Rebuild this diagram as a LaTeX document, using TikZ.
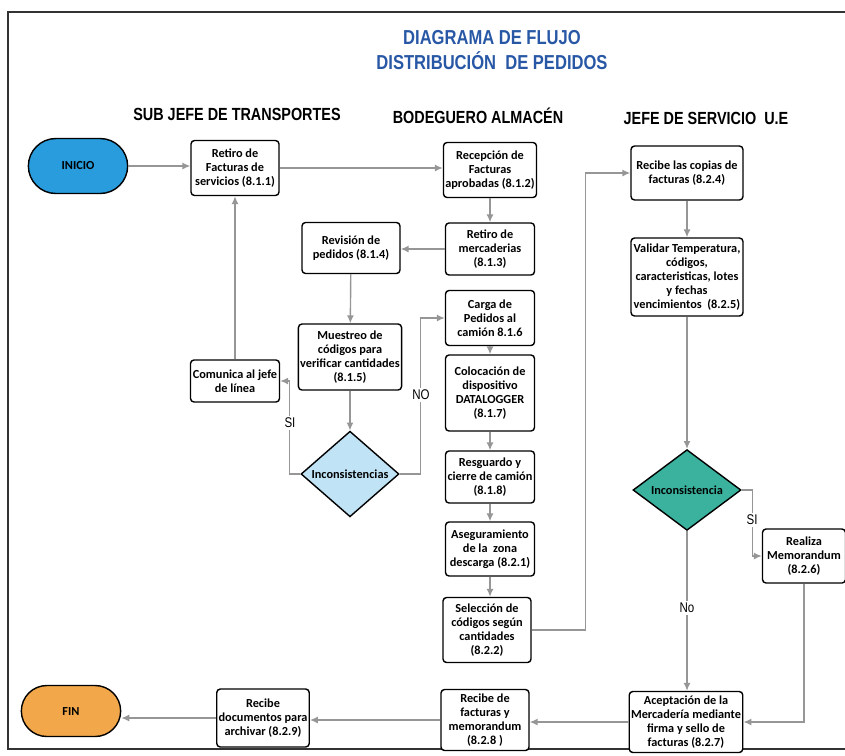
\documentclass[tikz,border=0pt]{standalone}
\usepackage{fontspec}
\setmainfont{Carlito}
\newfontfamily\narrowfont{Liberation Sans}[FakeStretch=0.82]
\usepackage{tikz}
\usetikzlibrary{positioning, arrows.meta, shapes.geometric, shapes.misc}

\definecolor{titleblue}{RGB}{40,88,165}
\definecolor{startblue}{RGB}{40,156,220}
\definecolor{endorange}{RGB}{242,168,74}
\definecolor{checkblue}{RGB}{192,228,246}
\definecolor{checkteal}{RGB}{58,178,158}
\definecolor{flowgray}{RGB}{150,150,150}

\tikzset{
    box/.style={draw=black, line width=0.8pt, rounded corners=2pt, fill=white,
        align=center, inner sep=1pt, font=\bfseries\fontsize{7}{8}\selectfont},
    terminal/.style={rounded rectangle, draw=black, line width=0.8pt,
        minimum width=111*0.02cm, font=\bfseries\fontsize{7}{8}\selectfont},
    check/.style={diamond, draw=black, line width=0.8pt, inner sep=0pt,
        font=\bfseries\fontsize{7}{8}\selectfont},
    flow/.style={draw=flowgray, line width=0.8pt, -{Latex[length=4.5pt,width=4pt]}},
    answer/.style={fill=white, inner sep=1pt, font=\narrowfont\fontsize{8}{9}\selectfont},
    header/.style={font=\narrowfont\bfseries\fontsize{10}{12}\selectfont}
}

\begin{document}
\begin{tikzpicture}[x=0.02cm, y=-0.02cm]
    \useasboundingbox (0,0) rectangle (845,755);

    % frame
    \draw[line width=0.8pt, black!80] (845,12) -- (8,12) -- (8,749) -- (845,749);

    % titles
    \node[text=titleblue, align=center, font=\narrowfont\bfseries\fontsize{11.5}{14}\selectfont]
        (title) at (492,50) {DIAGRAMA DE FLUJO\\DISTRIBUCIÓN\ \ DE PEDIDOS};
    \node[header] (colA) at (237,114) {SUB JEFE DE TRANSPORTES};
    \node[header] (colB) at (478,116) {BODEGUERO ALMACÉN};
    \node[header] (colC) at (706,118) {JEFE DE SERVICIO\ \ U.E};

    % start and end
    \node[terminal, fill=startblue, minimum height=55*0.02cm] (inicio) at (78,166) {INICIO};
    \node[terminal, fill=endorange, minimum height=51*0.02cm] (fin) at (71,711) {FIN};

    % process boxes
    \foreach \name/\x/\y/\w/\h/\txt in {
        n811/235/168/88/55/{Retiro de\\Facturas de\\servicios (8.1.1)},
        n812/490/170/88/55/{Recepción de\\Facturas\\aprobadas (8.1.2)},
        n813/490/249/89/52/{Retiro de\\mercaderias\\(8.1.3)},
        n814/351/248/98/51/{Revisión de\\pedidos (8.1.4)},
        n815/350/357/99/66/{Muestreo de\\códigos para\\verificar cantidades\\(8.1.5)},
        com/235/381/89/42/{Comunica al jefe\\de línea},
        n816/490/318/89/55/{Carga de\\Pedidos al\\camión 8.1.6},
        n817/490/393/89/76/{Colocación de\\dispositivo\\DATALOGGER\\(8.1.7)},
        n818/490/477/89/52/{Resguardo y\\cierre de camión\\(8.1.8)},
        n821/490/549/89/54/{Aseguramiento\\de la\ \ zona\\descarga (8.2.1)},
        n822/487/630/88/65/{Selección de\\códigos según\\cantidades\\(8.2.2)},
        n824/687/173/112/54/{Recibe las copias de\\facturas (8.2.4)},
        n825/687/277/112/78/{Validar Temperatura,\\códigos,\\caracteristicas, lotes\\y fechas\\vencimientos\ \ (8.2.5)},
        n826/804/556/83/54/{Realiza\\Memorandum\\(8.2.6)},
        n827/686/722/111/61/{Aceptación de la\\Mercadería mediante\\firma y sello de\\facturas (8.2.7)},
        n828/485/720/88/61/{Recibe de\\facturas y\\memorandum\\(8.2.8 )},
        n829/263/718/89/58/{Recibe\\documentos para\\archivar (8.2.9)}}{
        \node[box, minimum width=\w*0.02cm, minimum height=\h*0.02cm] (\name) at (\x,\y) {\txt};
    }

    % decisions
    \node[check, fill=checkblue, minimum width=98*0.02cm, minimum height=84*0.02cm]
        (inc1) at (350,474) {Inconsistencias};
    \node[check, fill=checkteal, minimum width=108*0.02cm, minimum height=75*0.02cm]
        (inc2) at (687,490) {Inconsistencia};

    % connectors
    \draw[flow] (inicio.east) -- (inicio.east -| n811.west);
    \draw[flow] (n811.east) -- (n811.east -| n812.west);
    \draw[flow] (n812) -- (n813);
    \draw[flow] (n813.west) -- (n813.west -| n814.east);
    \draw[flow] (n814) -- (n815);
    \draw[flow] (n815) -- (inc1);
    \draw[flow] (inc1.west) -- ++(-11,0) |- (com.east);
    \draw[flow] (inc1.east) -- ++(21,0) |- (n816.west);
    \draw[flow] (com) -- (n811);
    \draw[flow] (n816) -- (n817);
    \draw[flow] (n817) -- (n818);
    \draw[flow] (n818) -- (n821);
    \draw[flow] (n821.south) -- (n821.south |- n822.north);
    \draw[flow] (n822.east) -- ++(54,0) |- (n824.west);
    \draw[flow] (n824) -- (n825);
    \draw[flow] (n825) -- (inc2);
    \draw[flow] (inc2.east) -- ++(11,0) |- (n826.west);
    \draw[flow] (inc2.south) -- (inc2.south |- n827.north);
    \draw[flow] (n826.south) |- (n827.east);
    \draw[flow] (n827.west) -- (n827.west -| n828.east);
    \draw[flow] (n828.west) -- (n828.west -| n829.east);
    \draw[flow] (n829.west) -- (n829.west -| fin.east);

    % answers on the branches
    \node[answer] (si1) at (290,423) {SI};
    \node[answer] (no1) at (421,395) {NO};
    \node[answer] (si2) at (752,520) {SI};
    \node[answer] (no2) at (687,608) {No};
\end{tikzpicture}
\end{document}
